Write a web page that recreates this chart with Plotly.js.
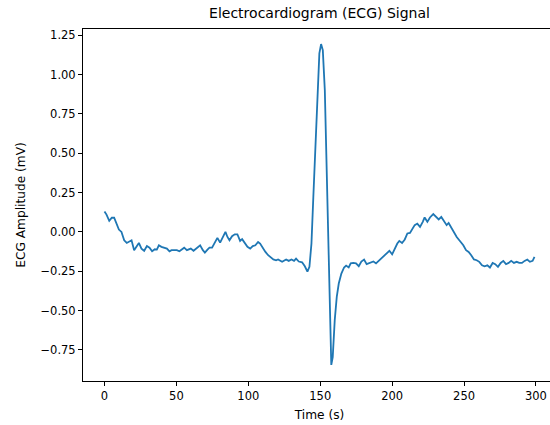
<!DOCTYPE html>
<html>
<head>
<meta charset="utf-8">
<script src="https://cdn.plot.ly/plotly-3.0.1.min.js"></script>
<style>html,body{margin:0;padding:0;overflow:hidden;background:#fff;}</style>
</head>
<body>
<div id="chart"></div>
<script>
const timeS = [0,1.4,3.3,5.1,6.7,8.3,10,11.8,13.7,15.5,17,18.8,20.6,22.5,23.9,25.7,27.6,29.5,31.3,33.1,35,36.4,37.8,39.6,41.5,43.4,45.2,46.6,48.4,50.3,52.1,53.5,55.4,57.3,
60,61.9,63.7,66.5,68.4,69.8,71.6,73,74.8,76.7,78.5,80.4,82.3,84.1,85.5,86.9,88.7,90.6,92.4,94.3,95.7,97.6,99.4,101.3,103.1,104.9,106.8,108.2,110.1,111.9,113.8,115.6,117.4,119.3,
120.7,123.5,126.3,128.1,130,131.8,133.2,135.1,137.4,139.3,141.1,142.5,143.9,145.2,146.6,148,149.4,150.6,151.8,153.2,154.5,155.9,156.8,157.7,158.7,160.1,161.5,162.9,164.7,166.6,168,169.8,171.2,173,174.9,176.8,178.6,180.5,182.3,
185.1,187,188.8,190.7,192.5,194.4,196.2,198.1,200,201.8,203.6,205,206.9,208.8,210.6,212.4,213.8,215.7,217.5,219.4,221.3,222.6,224.5,226.3,228.6,230.5,232.4,234.2,236.1,237.9,239.3,241.1,243,244.9,
247.7,249.5,251.4,253.2,255,256.9,258.8,260.6,262.5,264.3,266.2,268,269.9,271.7,273.6,275.5,277.3,279.2,281,282.8,284.7,286.6,288.4,290.3,292.1,294,295.8,297.7,299];
const ecgMv = [0.13,0.11,0.07,0.09,0.09,0.053,0.015,0.0,-0.053,-0.07,-0.06,-0.053,-0.116,-0.085,-0.07,-0.106,-0.12,-0.09,-0.1,-0.123,-0.11,-0.112,-0.085,-0.095,-0.1,-0.106,-0.123,-0.116,-0.116,-0.116,-0.123,-0.112,-0.1,-0.116,
-0.106,-0.12,-0.106,-0.085,-0.116,-0.131,-0.112,-0.1,-0.1,-0.07,-0.038,-0.068,-0.027,0.0,-0.032,-0.053,-0.027,-0.015,-0.015,-0.057,-0.046,-0.07,-0.095,-0.106,-0.09,-0.085,-0.064,-0.074,-0.106,-0.127,-0.148,-0.159,-0.175,-0.18,
-0.175,-0.19,-0.175,-0.184,-0.175,-0.184,-0.17,-0.188,-0.193,-0.218,-0.252,-0.222,-0.074,0.22,0.56,0.90,1.134,1.193,1.155,0.90,0.39,-0.2,-0.625,-0.845,-0.795,-0.56,-0.413,-0.328,-0.265,-0.226,-0.214,-0.226,-0.2,-0.197,-0.2,-0.218,-0.188,-0.175,-0.205,
-0.197,-0.188,-0.2,-0.184,-0.169,-0.154,-0.142,-0.12,-0.142,-0.106,-0.074,-0.057,-0.07,-0.048,-0.01,-0.006,0.015,0.043,0.053,0.032,0.064,0.092,0.064,0.092,0.113,0.095,0.079,0.095,0.07,0.043,0.057,0.028,0.0,-0.032,
-0.064,-0.085,-0.116,-0.127,-0.148,-0.175,-0.18,-0.19,-0.212,-0.218,-0.212,-0.226,-0.197,-0.205,-0.222,-0.197,-0.184,-0.205,-0.197,-0.184,-0.197,-0.19,-0.197,-0.197,-0.184,-0.175,-0.19,-0.184,-0.159];
const xTicks = [0,50,100,150,200,250,300];
const yTicks = [-0.75,-0.5,-0.25,0,0.25,0.5,0.75,1.0,1.25];

const font = {family: 'DejaVu Sans, sans-serif', color: '#000'};
const axisCommon = {
  showgrid: false, zeroline: false, showline: true, mirror: true,
  linecolor: '#000', linewidth: 1, ticks: 'outside', ticklen: 4, tickwidth: 1,
  tickcolor: '#000', tickfont: {family: font.family, size: 11.5, color: '#000'}
};
Plotly.newPlot('chart', [{
  x: timeS, y: ecgMv, type: 'scatter', mode: 'lines',
  line: {color: '#1f77b4', width: 1.8}, hoverinfo: 'skip'
}], {
  width: 558, height: 425,
  margin: {l: 83, r: 2, t: 29, b: 44},
  paper_bgcolor: '#fff', plot_bgcolor: '#fff',
  showlegend: false,
  title: {text: 'Electrocardiogram (ECG) Signal', font: {family: font.family, size: 14, color: '#000'}, x: 0.5, xref: 'paper', y: 1, yref: 'container', yanchor: 'top', pad: {t: 8}},
  xaxis: Object.assign({}, axisCommon, {
    range: [-14.95, 313.95], tickvals: xTicks, ticktext: xTicks.map(String),
    title: {text: 'Time (s)', font: {family: font.family, size: 12.2, color: '#000'}, standoff: 8}
  }),
  yaxis: Object.assign({}, axisCommon, {
    range: [-0.947, 1.289], tickvals: yTicks, tickformat: '.2f',
    title: {text: 'ECG Amplitude (mV)', font: {family: font.family, size: 12.2, color: '#000'}, standoff: 12}
  })
}, {staticPlot: true});
</script>
</body>
</html>
